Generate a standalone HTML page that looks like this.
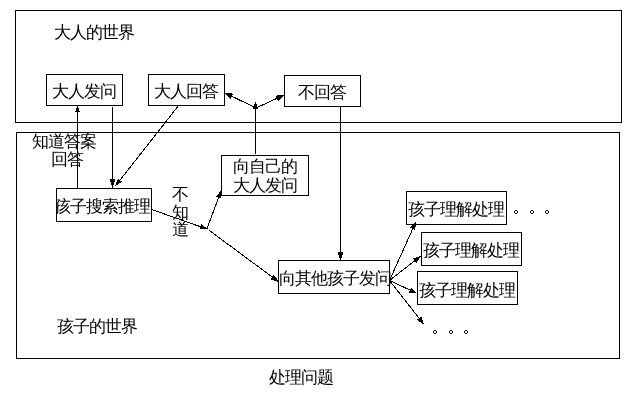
<!DOCTYPE html>
<html><head><meta charset="utf-8"><title>孩子的世界 处理问题</title>
<style>
html,body{margin:0;padding:0;background:#fff;width:641px;height:406px;overflow:hidden}
svg{display:block;will-change:transform}
text{font-family:"Liberation Sans",sans-serif;font-size:17px;fill:#000}
</style></head><body>
<svg width="641" height="406" viewBox="0 0 641 406">
<defs><clipPath id="c1"><rect x="57" y="189" width="94" height="32"/></clipPath></defs>
<g fill="#fff" stroke="#000" stroke-width="1" shape-rendering="crispEdges">
<rect x="15.5" y="10.5" width="606" height="112"/>
<rect x="16.5" y="132.5" width="603" height="226"/>
<rect x="46.5" y="74.5" width="76" height="31"/>
<rect x="148.5" y="74.5" width="76" height="31"/>
<rect x="284.5" y="75.5" width="76" height="31"/>
<rect x="221.5" y="155.5" width="87" height="40"/>
<rect x="56.5" y="188.5" width="95" height="33"/>
<rect x="278.5" y="260.5" width="111" height="33"/>
<rect x="406.5" y="191.5" width="100" height="33"/>
<rect x="421.5" y="232.5" width="100" height="33"/>
<rect x="417.5" y="271.5" width="100" height="33"/>
</g>
<g stroke="#000" stroke-width="1" shape-rendering="crispEdges">
<line x1="77.5" y1="188" x2="77.50" y2="111.20"/>
<line x1="112.5" y1="107" x2="112.50" y2="179.80"/>
<line x1="178.6" y1="105.5" x2="119.32" y2="180.99"/>
<line x1="151" y1="209.2" x2="201.40" y2="227.06"/>
<line x1="206.8" y1="229" x2="219.03" y2="196.55"/>
<line x1="209" y1="230.2" x2="272.97" y2="277.54"/>
<line x1="255.5" y1="154" x2="255.50" y2="107.50"/>
<line x1="256" y1="108" x2="231.05" y2="95.88"/>
<line x1="256" y1="108" x2="277.79" y2="97.94"/>
<line x1="340.5" y1="106" x2="340.50" y2="252.80"/>
<line x1="389.5" y1="280.5" x2="413.13" y2="227.89"/>
<line x1="389.5" y1="280.5" x2="415.49" y2="260.12"/>
<line x1="389.5" y1="280.5" x2="410.96" y2="290.53"/>
<line x1="389.5" y1="280.5" x2="419.68" y2="318.99"/>
</g>
<g fill="#000" stroke="none" shape-rendering="crispEdges">
<polygon points="77.5,105.2 80.10,112.20 74.90,112.20"/>
<polygon points="112.5,187.8 109.50,178.80 115.50,178.80"/>
<polygon points="115,186.5 117.90,178.60 121.99,181.81"/>
<polygon points="208,229.4 199.52,229.37 201.39,224.09"/>
<polygon points="221.5,190 221.11,198.40 216.25,196.57"/>
<polygon points="279,282 270.50,279.19 273.83,274.69"/>
<polygon points="255.5,101.5 258.10,108.50 252.90,108.50"/>
<polygon points="224.3,92.6 233.26,93.62 230.63,99.01"/>
<polygon points="284.6,94.8 278.14,101.09 275.63,95.64"/>
<polygon points="340.5,260.8 337.50,251.80 343.50,251.80"/>
<polygon points="416,221.5 415.28,229.94 410.17,227.65"/>
<polygon points="421,255.8 416.43,262.94 412.98,258.53"/>
<polygon points="417.3,293.5 408.87,292.65 411.24,287.57"/>
<polygon points="424,324.5 416.86,319.93 421.27,316.48"/>
</g>
<path fill="#000" shape-rendering="crispEdges" d="M515 210h2v1h-2zM514 211h1v2h-1zM517 211h1v2h-1zM515 213h2v1h-2zM531 210h2v1h-2zM530 211h1v2h-1zM533 211h1v2h-1zM531 213h2v1h-2zM546 210h2v1h-2zM545 211h1v2h-1zM548 211h1v2h-1zM546 213h2v1h-2zM434 330h2v1h-2zM433 331h1v2h-1zM436 331h1v2h-1zM434 333h2v1h-2zM450 330h2v1h-2zM449 331h1v2h-1zM452 331h1v2h-1zM450 333h2v1h-2zM465 330h2v1h-2zM464 331h1v2h-1zM467 331h1v2h-1zM465 333h2v1h-2z"/>
<text x="53.5 69.5 85.5 101.5 117.5" y="38">大人的世界</text>
<text x="51.5 67.5 83.5 99.5" y="97">大人发问</text>
<text x="153.5 169.5 185.5 201.5" y="97">大人回答</text>
<text x="297.5 313.5 329.5" y="98">不回答</text>
<text x="232.5 248.5 264.5 280.5" y="172">向自己的</text>
<text x="232.5 248.5 264.5 280.5" y="191">大人发问</text>
<text x="53.5 69.5 85.5 101.5 117.5 133.5" y="212" clip-path="url(#c1)">孩子搜索推理</text>
<text x="278.5 294.5 310.5 326.5 342.5 358.5 374.5" y="284">向其他孩子发问</text>
<text x="407.5 423.5 439.5 455.5 471.5 487.5" y="215">孩子理解处理</text>
<text x="422.5 438.5 454.5 470.5 486.5 502.5" y="256">孩子理解处理</text>
<text x="418.5 434.5 450.5 466.5 482.5 498.5" y="296">孩子理解处理</text>
<text x="31.5 47.5 63.5 79.5" y="147">知道答案</text>
<text x="50.5 66.5" y="165">回答</text>
<text x="171.5" y="200">不</text>
<text x="171.5" y="218">知</text>
<text x="171.5" y="235">道</text>
<text x="56.5 72.5 88.5 104.5 120.5" y="332">孩子的世界</text>
<text x="268.5 284.5 300.5 316.5" y="383">处理问题</text>
</svg>
</body></html>
